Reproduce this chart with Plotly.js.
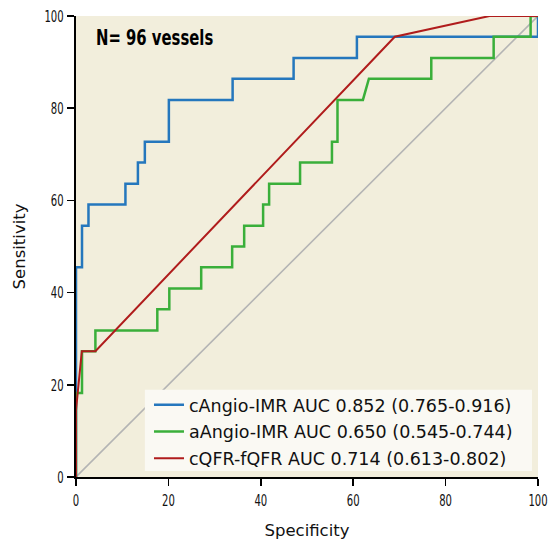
<!DOCTYPE html>
<html>
<head>
<meta charset="utf-8">
<script src="https://cdn.plot.ly/plotly-3.0.1.min.js"></script>
<style>
  html, body { margin: 0; padding: 0; background: #ffffff; }
  #chart { width: 548px; height: 543px; }
</style>
</head>
<body>
<div id="chart"></div>
<script>
// ROC curves (x = specificity axis as drawn, y = sensitivity)
const cAngioX = [0, 0, 1.3, 1.3, 2.7, 2.7, 10.7, 10.7, 13.4, 13.4, 14.9, 14.9, 20.1, 20.1, 33.9, 33.9, 47.1, 47.1, 60.8, 60.8, 100, 100];
const cAngioY = [0, 45.5, 45.5, 54.5, 54.5, 59.1, 59.1, 63.6, 63.6, 68.2, 68.2, 72.7, 72.7, 81.8, 81.8, 86.4, 86.4, 90.9, 90.9, 95.5, 95.5, 100];

const aAngioX = [0, 0, 1.3, 1.3, 4.2, 4.2, 17.6, 17.6, 20.2, 20.2, 27.1, 27.1, 33.8, 33.8, 36.4, 36.4, 40.5, 40.5, 41.8, 41.8, 48.5, 48.5, 55.4, 55.4, 56.6, 56.6, 62.1, 63.4, 76.9, 76.9, 90.4, 90.4, 98.4, 98.4, 100];
const aAngioY = [0, 18.2, 18.2, 27.3, 27.3, 31.8, 31.8, 36.4, 36.4, 40.9, 40.9, 45.5, 45.5, 50.0, 50.0, 54.5, 54.5, 59.1, 59.1, 63.6, 63.6, 68.2, 68.2, 72.7, 72.7, 81.8, 81.8, 86.4, 86.4, 90.9, 90.9, 95.5, 95.5, 100, 100];

const cqfrX = [0, 0, 1.26, 4.2, 69, 89.5, 100];
const cqfrY = [0, 14.5, 27.3, 27.3, 95.5, 100, 100];

const refX = [0, 100];
const refY = [0, 100];

const seriesNames = [
  'cAngio-IMR AUC 0.852 (0.765-0.916)',
  'aAngio-IMR AUC 0.650 (0.545-0.744)',
  'cQFR-fQFR AUC 0.714 (0.613-0.802)'
];
const tickVals = [0, 20, 40, 60, 80, 100];
const tickText = ['0', '20', '40', '60', '80', '100'];
const annotationText = 'N= 96 vessels';

const narrow = '"DejaVu Sans Condensed", "DejaVu Sans", sans-serif';
const sans = '"DejaVu Sans", sans-serif';

const traces = [
  { x: refX, y: refY, mode: 'lines', line: { color: '#b4b4b4', width: 1.6 }, showlegend: false, hoverinfo: 'skip' },
  { x: cAngioX, y: cAngioY, mode: 'lines', name: seriesNames[0], legendgroup: 'a', line: { color: '#2577bd', width: 2.5 } },
  { x: aAngioX, y: aAngioY, mode: 'lines', name: seriesNames[1], legendgroup: 'b', line: { color: '#3aaf3a', width: 2.5 } },
  { x: cqfrX, y: cqfrY, mode: 'lines', name: seriesNames[2], legendgroup: 'c', line: { color: '#b01c1c', width: 2 } }
];

const axisCommon = {
  range: [0, 100],
  tickvals: tickVals,
  ticktext: tickText,
  ticks: 'outside',
  ticklen: 7,
  tickwidth: 1.5,
  tickcolor: '#000',
  showline: true,
  linecolor: '#000',
  linewidth: 2,
  showgrid: false,
  zeroline: false,
  fixedrange: true,
  ticklabeloverflow: 'allow',
  tickfont: { family: narrow, size: 16.5, color: '#111' }
};

const layout = {
  width: 548,
  height: 543,
  margin: { l: 76, r: 10, t: 16, b: 66 },
  paper_bgcolor: '#ffffff',
  plot_bgcolor: '#f2eedc',
  xaxis: Object.assign({}, axisCommon, {
    title: { text: 'Specificity', font: { family: sans, size: 16.5, color: '#111' }, standoff: 16 }
  }),
  yaxis: Object.assign({}, axisCommon, {
    title: { text: 'Sensitivity', font: { family: sans, size: 16.5, color: '#111' }, standoff: 6 }
  }),
  legend: {
    x: 0.158, y: 0.1955, xanchor: 'left', yanchor: 'top',
    bgcolor: 'rgba(0,0,0,0)',
    borderwidth: 0,
    font: { family: sans, size: 17.5, color: '#111' },
    traceorder: 'grouped',
    tracegroupgap: 1,
    itemwidth: 30
  },
  shapes: [{
    type: 'rect', xref: 'paper', yref: 'paper', layer: 'above',
    x0: 0.149, x1: 0.987, y0: 0.013, y1: 0.189,
    fillcolor: '#faf9f3', line: { width: 0 }
  }],
  annotations: [{
    text: '<b>' + annotationText + '</b>',
    xref: 'paper', yref: 'paper',
    x: 0.04, y: 0.954, xanchor: 'left', yanchor: 'middle',
    showarrow: false,
    font: { family: narrow, size: 22, color: '#000' }
  }],
  showlegend: true
};

function condense(selector, s, anchor) {
  document.querySelectorAll(selector).forEach(function (el) {
    const b = el.getBBox();
    const ox = anchor === 'left' ? b.x : (anchor === 'right' ? b.x + b.width : b.x + b.width / 2);
    const t = el.getAttribute('transform') || '';
    el.setAttribute('transform', (t + ' translate(' + ox + ',0) scale(' + s + ',1) translate(' + (-ox) + ',0)').trim());
  });
}

Plotly.newPlot('chart', traces, layout, { displayModeBar: false, staticPlot: true }).then(function () {
  condense('#chart g.xtick text', 0.68, 'center');
  condense('#chart g.ytick text', 0.68, 'right');
  condense('#chart .annotation-text', 0.75, 'left');
});
</script>
</body>
</html>
